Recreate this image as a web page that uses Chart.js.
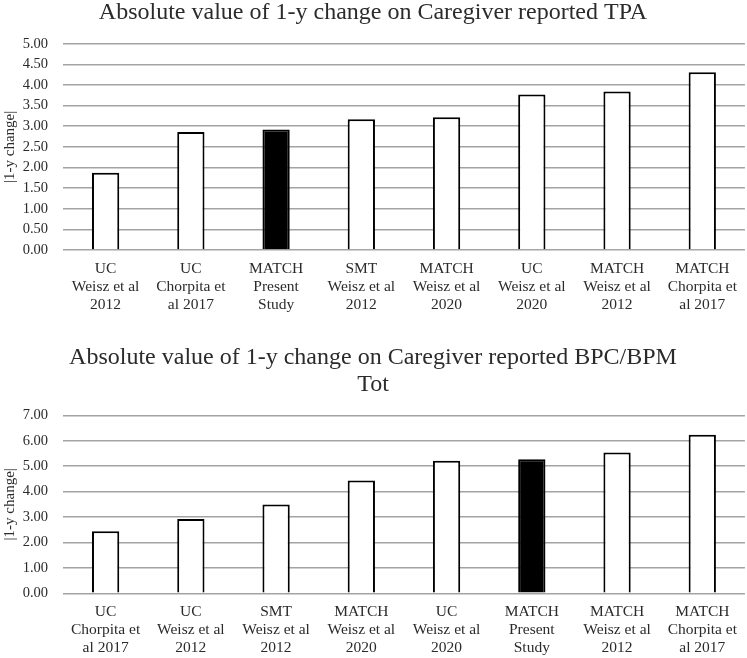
<!DOCTYPE html>
<html>
<head>
<meta charset="utf-8">
<script src="https://cdn.jsdelivr.net/npm/chart.js@4.4.1/dist/chart.umd.min.js"></script>
<style>
    body { margin: 0; background: #fff; }
    .box { position: relative; width: 747px; }
</style>
</head>
<body>
<div class="box" style="height:330px"><canvas id="tpaChart"></canvas></div>
<div class="box" style="height:328px"><canvas id="bpcChart"></canvas></div>
<script>
// --- datos ---
const tpaLabels = [
    ['UC', 'Weisz et al', '2012'],
    ['UC', 'Chorpita et', 'al 2017'],
    ['MATCH', 'Present', 'Study'],
    ['SMT', 'Weisz et al', '2012'],
    ['MATCH', 'Weisz et al', '2020'],
    ['UC', 'Weisz et al', '2020'],
    ['MATCH', 'Weisz et al', '2012'],
    ['MATCH', 'Chorpita et', 'al 2017']
];
const tpaValues = [1.87, 2.86, 2.92, 3.17, 3.22, 3.77, 3.84, 4.31];

const bpcLabels = [
    ['UC', 'Chorpita et', 'al 2017'],
    ['UC', 'Weisz et al', '2012'],
    ['SMT', 'Weisz et al', '2012'],
    ['MATCH', 'Weisz et al', '2020'],
    ['UC', 'Weisz et al', '2020'],
    ['MATCH', 'Present', 'Study'],
    ['MATCH', 'Weisz et al', '2012'],
    ['MATCH', 'Chorpita et', 'al 2017']
];
const bpcValues = [2.44, 2.92, 3.49, 4.44, 5.21, 5.27, 5.54, 6.24];

const tpaTitle = 'Absolute value of 1-y change on Caregiver reported TPA';
const bpcTitle = ['Absolute value of 1-y change on Caregiver reported BPC/BPM', 'Tot'];
const yTitle = '|1-y change|';

const SERIF = '"Liberation Serif", "DejaVu Serif", serif';
const TEXT = '#2b2b2b';
const GRID = '#a3a3a3';

// barra del estudio actual en negro
function colores(labels) {
    return labels.map(l => l[1] === 'Present' ? '#000000' : '#ffffff');
}

function crearGrafico(id, labels, values, title, yMax, yStep, cfg) {
    const ctx = document.getElementById(id).getContext('2d');
    return new Chart(ctx, {
        type: 'bar',
        data: {
            labels: labels,
            datasets: [{
                data: values,
                backgroundColor: colores(labels),
                borderColor: '#000000',
                borderWidth: 2,
                categoryPercentage: 1,
                barPercentage: 0.32
            }]
        },
        options: {
            responsive: true,
            maintainAspectRatio: false,
            animation: false,
            devicePixelRatio: 1,
            layout: { padding: { left: 0, right: 1, top: 0, bottom: 0 } },
            plugins: {
                legend: { display: false },
                tooltip: { enabled: false },
                title: {
                    display: true,
                    text: title,
                    color: TEXT,
                    font: { family: SERIF, size: 24, weight: 'normal', lineHeight: cfg.titleLH },
                    padding: cfg.titlePad
                }
            },
            scales: {
                x: {
                    grid: { display: false, drawTicks: false },
                    border: { display: false },
                    ticks: {
                        color: TEXT,
                        font: { family: SERIF, size: 15.5, lineHeight: 1.16 },
                        padding: 10,
                        maxRotation: 0,
                        autoSkip: false
                    },
                    afterFit: s => { s.height = cfg.xHeight; }
                },
                y: {
                    min: 0,
                    max: yMax,
                    grid: { color: GRID, lineWidth: 1.5, drawTicks: false },
                    border: { display: false },
                    ticks: {
                        stepSize: yStep,
                        color: TEXT,
                        padding: 15,
                        font: { family: SERIF, size: 14.5 },
                        callback: v => Number(v).toFixed(2)
                    },
                    title: {
                        display: true,
                        text: yTitle,
                        color: TEXT,
                        font: { family: SERIF, size: 15 },
                        padding: { top: 1, bottom: 0 }
                    },
                    afterFit: s => { s.width = 63; }
                }
            }
        }
    });
}

crearGrafico('tpaChart', tpaLabels, tpaValues, tpaTitle, 5, 0.5, {
    titleLH: 1.1,
    titlePad: { top: 0, bottom: 17.3 },
    xHeight: 80
});

crearGrafico('bpcChart', bpcLabels, bpcValues, bpcTitle, 7, 1, {
    titleLH: 1.125,
    titlePad: { top: 14.5, bottom: 16.8 },
    xHeight: 64.7
});
</script>
</body>
</html>
